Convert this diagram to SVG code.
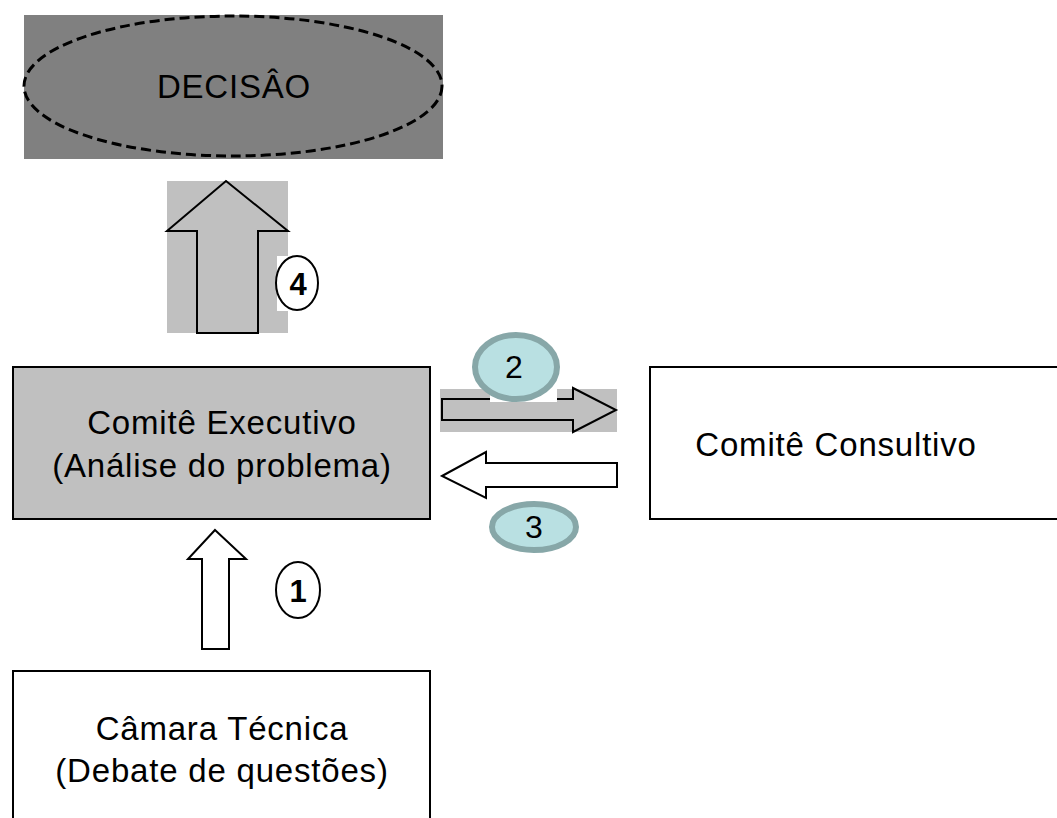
<svg xmlns="http://www.w3.org/2000/svg" width="1057" height="818" viewBox="0 0 1057 818">
<style>
.t{font-family:"Liberation Sans",Arial,sans-serif;font-size:33px;letter-spacing:0.8px;fill:#000;text-anchor:middle}
.n{font-family:"Liberation Sans",Arial,sans-serif;font-size:32px;fill:#000;text-anchor:middle}
.b{font-family:"Liberation Sans",Arial,sans-serif;font-size:31px;font-weight:bold;fill:#000;text-anchor:middle}
.box{stroke:#000;stroke-width:2}
.arr{stroke:#000;stroke-width:2;stroke-linejoin:miter}
.tag{fill:#fff;stroke:#000;stroke-width:2}
.bub{fill:#b9e0e2;stroke:#87a7a8;stroke-width:6}
</style>
<rect width="1057" height="818" fill="#fff"/>
<g id="decisao">
<rect x="24" y="15" width="419" height="144" fill="#808080"/>
<ellipse cx="233" cy="86" rx="209" ry="70" fill="none" stroke="#000" stroke-width="3" stroke-dasharray="10 5"/>
<text class="t" x="234" y="98" letter-spacing="2">DECISÂO</text>
</g>
<g id="comite-executivo">
<rect class="box" x="13" y="367" width="417" height="152" fill="#c0c0c0"/>
<text class="t" x="222" y="434">Comitê Executivo</text>
<text class="t" x="222" y="477">(Análise do problema)</text>
</g>
<g id="comite-consultivo">
<rect class="box" x="650" y="367" width="420" height="152" fill="#fff"/>
<text class="t" x="836" y="456">Comitê Consultivo</text>
</g>
<g id="camara-tecnica">
<rect class="box" x="13" y="671" width="417" height="160" fill="#fff"/>
<text class="t" x="222" y="740">Câmara Técnica</text>
<text class="t" x="222" y="782">(Debate de questões)</text>
</g>
<g id="connectors">
<g id="arrow-4">
<rect x="167" y="181" width="121" height="152" fill="#c0c0c0"/>
<polygon class="arr" points="226,181 288,231 258,231 258,333 197,333 197,231 167,231" fill="#c0c0c0"/>
</g>
<g id="arrow-1">
<polygon class="arr" points="215,530 246,559 229,559 229,649 202,649 202,559 188,559" fill="#fff"/>
</g>
<g id="arrow-2">
<rect x="440" y="389" width="177" height="43" fill="#c0c0c0"/>
<polygon class="arr" points="442,399 573,399 573,388 616,410 573,432 573,420 442,420" fill="#c0c0c0"/>
</g>
<g id="arrow-3">
<polygon class="arr" points="442,476 486,452 486,463 617,463 617,487 486,487 486,498" fill="#fff"/>
</g>
</g>
<g id="label-4">
<rect x="277" y="256" width="11" height="55" fill="#fff"/>
<ellipse class="tag" cx="297" cy="283" rx="21" ry="27"/>
<text class="b" x="298" y="295">4</text>
</g>
<g id="label-1">
<ellipse class="tag" cx="298" cy="590" rx="22" ry="28"/>
<text class="b" x="298" y="602">1</text>
</g>
<g id="label-2">
<rect x="490" y="389" width="67" height="13" fill="#fff"/>
<ellipse class="bub" cx="516" cy="367" rx="41" ry="32"/>
<text class="n" x="514" y="378">2</text>
</g>
<g id="label-3">
<ellipse class="bub" cx="534" cy="527" rx="42" ry="23"/>
<text class="n" x="534" y="538">3</text>
</g>
</svg>
